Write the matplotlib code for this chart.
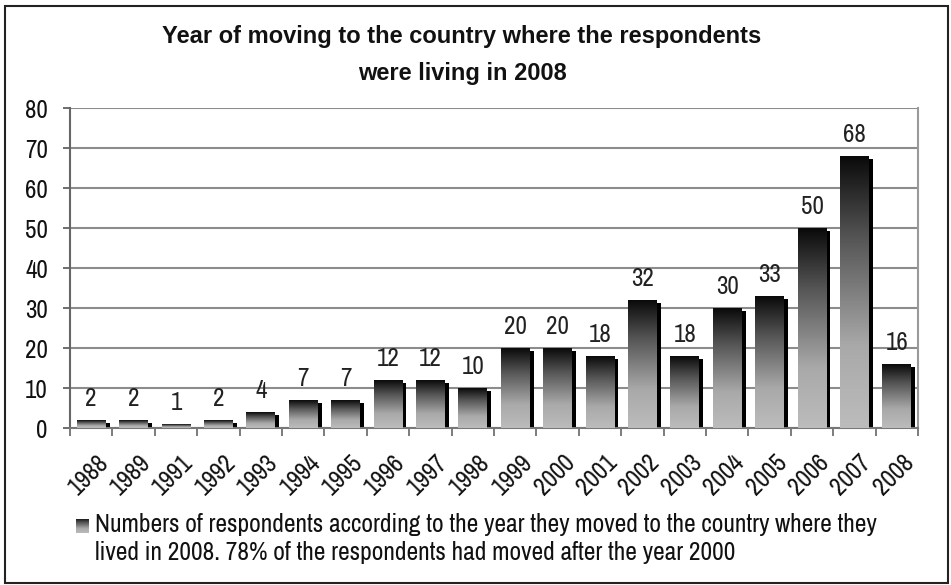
import numpy as np
import matplotlib
matplotlib.use("Agg")
import matplotlib.pyplot as plt
import matplotlib.transforms as mtrans
from matplotlib.colors import LinearSegmentedColormap
from matplotlib.patches import Rectangle

years = ["1988", "1989", "1991", "1992", "1993", "1994", "1995", "1996", "1997", "1998",
         "1999", "2000", "2001", "2002", "2003", "2004", "2005", "2006", "2007", "2008"]
counts = [2, 2, 1, 2, 4, 7, 7, 12, 12, 10, 20, 20, 18, 32, 18, 30, 33, 50, 68, 16]

title_lines = ["Year of moving to the country where the respondents", "were living in 2008"]
legend_lines = ["Numbers of respondents according to the year they moved to the country where they",
                "lived in 2008. 78% of the respondents had moved after the year 2000"]

body_font = ['Archivo Narrow', 'PT Sans Narrow', 'DejaVu Sans']
title_font = ['Liberation Sans', 'DejaVu Sans']
plt.rcParams['font.family'] = body_font

W, H = 951, 585
# gradient: light grey at the bottom, black at the top
cmap = LinearSegmentedColormap.from_list("barg", [(0.0, "#bcbcbc"), (0.3, "#a9a9a9"), (0.7, "#555555"), (1.0, "#0a0a0a")])
grad = np.linspace(0, 1, 256).reshape(-1, 1)

fig = plt.figure(figsize=(W / 100, H / 100), dpi=100)
ax = fig.add_axes([70 / W, 1 - 428 / H, 848 / W, 320 / H])

bw = 0.68
dx = 0.095   # shadow shift right
dy = 0.75    # shadow shift down
x = np.arange(len(years))
for i, v in enumerate(counts):
    ax.add_patch(Rectangle((i - bw / 2 + dx, 0), bw, v - dy, color="black", zorder=2, lw=0))
    ax.imshow(grad, extent=[i - bw / 2, i + bw / 2, 0, v], origin="lower", cmap=cmap,
              aspect="auto", zorder=3, interpolation="bilinear")
    ax.text(i, v + 3.5, str(v), ha="center", va="baseline", fontsize=18, color="#222222")

ax.set_xlim(-0.5, len(years) - 0.5)
ax.set_ylim(0, 80)
ax.set_yticks(range(0, 81, 10))
ax.tick_params(axis="y", labelsize=18, length=5, width=1.2, color="#555555", labelcolor="#111111", pad=11)
ax.yaxis.grid(True, color="#8c8c8c", lw=1.5)
ax.set_axisbelow(True)

# category labels, rotated, top-right end just right of the category centre
ax.set_xticks(x)
ax.set_xticklabels([])
ax.tick_params(axis="x", which="major", length=0)
ax.set_xticks(np.arange(-0.5, len(years), 1), minor=True)
ax.tick_params(axis="x", which="minor", length=6, color="#666666", width=1.2)
off = mtrans.ScaledTranslation(5 / 100, -22 / 100, fig.dpi_scale_trans)
for i, lab in enumerate(years):
    ax.text(i, 0, lab, transform=ax.get_xaxis_transform() + off, rotation=45,
            rotation_mode="anchor", ha="right", va="top", fontsize=18, color="#111111")

ax.spines["left"].set_color("#666666")
ax.spines["bottom"].set_color("#777777")
ax.spines["right"].set_color("#9a9a9a")
for s in ["left", "bottom", "right"]:
    ax.spines[s].set_linewidth(1.5)
ax.spines["top"].set_visible(False)

fig.text(462 / W, 1 - 43 / H, title_lines[0], ha="center", va="baseline", fontsize=17,
         fontweight="bold", family=title_font, color="#111111")
fig.text(462 / W, 1 - 80 / H, title_lines[1], ha="center", va="baseline", fontsize=17,
         fontweight="bold", family=title_font, color="#111111")

# legend marker and text
lax = fig.add_axes([76 / W, 1 - 533 / H, 13 / W, 14 / H])
lax.imshow(grad, origin="lower", cmap=cmap, aspect="auto", extent=[0, 1, 0, 1])
lax.axis("off")
fig.text(95 / W, 1 - 532 / H, legend_lines[0], ha="left", va="baseline", fontsize=18.3, color="#111111")
fig.text(95 / W, 1 - 560 / H, legend_lines[1], ha="left", va="baseline", fontsize=18.3, color="#111111")

fig.patches.append(Rectangle((5 / W, 2 / H), 943 / W, 1 - 8 / H, transform=fig.transFigure,
                             fill=False, edgecolor="#222222", lw=1.5))

fig.savefig("out.png", dpi=100)
